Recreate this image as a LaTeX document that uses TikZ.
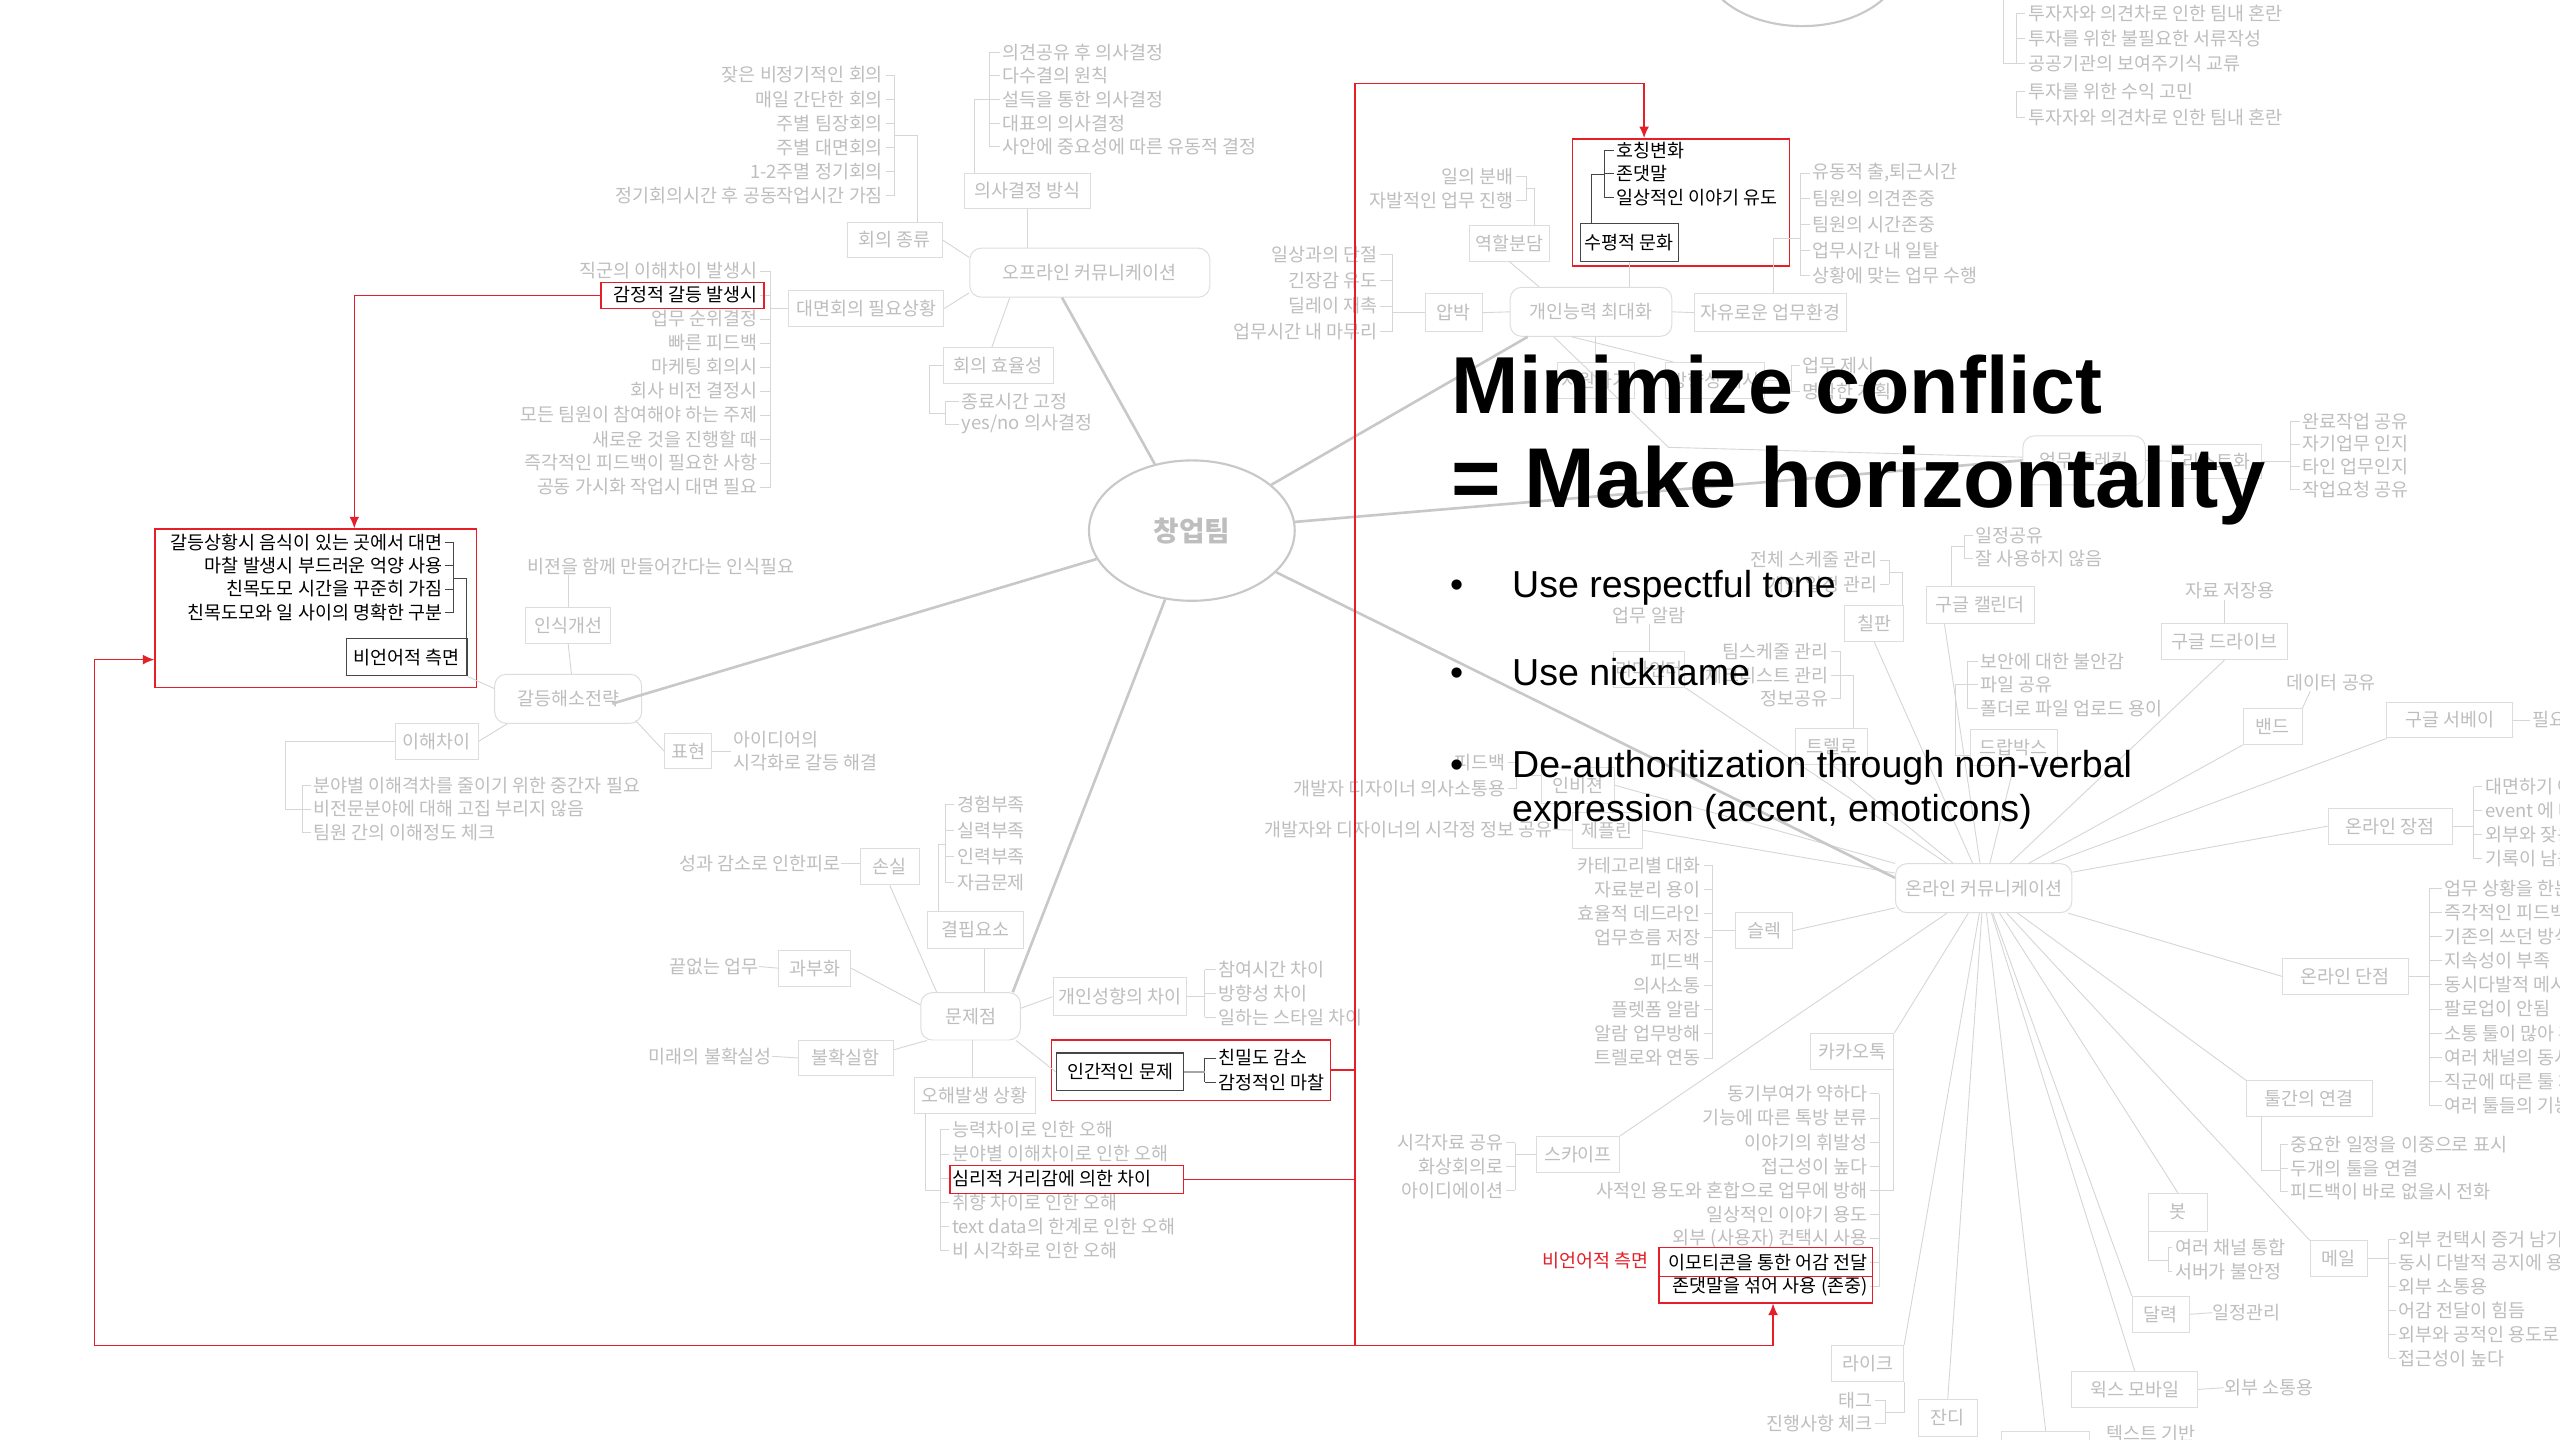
\documentclass[tikz,border=0pt]{standalone}
\usepackage{fontspec}
\newfontfamily\kr{Noto Sans CJK KR}
\newfontfamily\hv{Liberation Sans}
\usetikzlibrary{shapes.geometric,arrows.meta}

\definecolor{tg}{RGB}{190,190,190}
\definecolor{bg}{RGB}{221,221,221}
\definecolor{lg}{RGB}{214,214,214}
\definecolor{mg}{RGB}{200,200,200}
\definecolor{rd}{RGB}{230,30,40}
\definecolor{dk}{RGB}{70,70,70}

% right-aligned list with its bracket on the right
\newcommand\lstR[6]{%
  \foreach \t [count=\i] in {#6}{%
    \node[lt,anchor=east] (#1\i) at (#2,{#4+(\i-1)*#5}) {\t};
    \draw[lb] ([xshift=1.5pt]#1\i.east) -- ++({#3-#2-1.5},0);
    \xdef\lastn{\i}%
  }%
  \draw[lb] (#3,#4) -- (#3,{#4+(\lastn-1)*#5});
}
% left-aligned list with its bracket on the left
\newcommand\lstL[6]{%
  \foreach \t [count=\i] in {#6}{%
    \node[lt,anchor=west] (#1\i) at (#2,{#4+(\i-1)*#5}) {\t};
    \draw[lb] ([xshift=-1.5pt]#1\i.west) -- ++({#3-#2+1.5},0);
    \xdef\lastn{\i}%
  }%
  \draw[lb] (#3,#4) -- (#3,{#4+(\lastn-1)*#5});
}

\begin{document}
\begin{tikzpicture}[x=1pt,y=-1pt,
  kfont/.style={font=\kr\fontsize{11.3}{14}\selectfont},
  gt/.style={kfont,text=tg,inner sep=0pt},
  bt/.style={kfont,text=black,inner sep=0pt},
  lt/.style={gt},
  ln/.style={draw=lg,line width=0.55pt},
  dln/.style={draw=dk,line width=0.55pt},
  lb/.style={ln},
  sz/.style 2 args={minimum width=#1pt,minimum height=#2pt},
  gbox/.style={kfont,draw=bg,line width=0.6pt,text=tg,inner sep=0pt},
  hub/.style={gbox,rounded corners=7pt},
  dbox/.style={kfont,draw=dk,line width=0.7pt,text=black,inner sep=0pt},
  redbox/.style={draw=rd,line width=0.9pt,inner sep=0pt},
  trunk/.style={draw=mg,line width=1.6pt},
  redln/.style={draw=rd,line width=0.9pt},
  tip/.style={-{Latex[length=7pt,width=6pt]}},
  ttl/.style={font=\hv\bfseries\fontsize{#1}{#1}\selectfont,anchor=base west,inner sep=0pt},
  bul/.style={font=\hv\fontsize{23}{27}\selectfont,anchor=base west,inner sep=0pt}
]
\useasboundingbox (0,0) rectangle (1568,882);
\fill[white] (0,0) rectangle (1568,882);
\clip (0,0) rectangle (1568,882);

% ---------- centre ----------
\node[draw=mg,line width=1.3pt,ellipse,sz={126}{86},inner sep=0pt,text=tg,
      font=\kr\bfseries\fontsize{17}{20}\selectfont] (team) at (730,325) {창업팀};
\node[draw=mg,line width=1.3pt,ellipse,sz={122}{80},inner sep=0pt] (topel) at (1104,-24) {};

% ---------- offline communication ----------
\node[hub,sz={147}{30}] (offline) at (667.5,167) {오프라인 커뮤니케이션};
\node[gbox,sz={58}{22}] (hoeui) at (548,147) {회의 종류};
\node[gbox,sz={77}{22}] (uisa) at (629.5,117) {의사결정 방식};
\node[gbox,sz={95}{22}] (daemyeon) at (530.5,189) {대면회의 필요상황};
\node[gbox,sz={67}{22}] (hyoyul) at (611.5,224) {회의 효율성};

\lstR{mt}{541}{548}{46}{14.8}{잦은 비정기적인 회의,매일 간단한 회의,주별 팀장회의,주별 대면회의,1-2주멸 정기회의,정기회의시간 후 공동작업시간 가짐}
\draw[ln] ([xshift=14pt]hoeui.north) |- (548,83);
\lstL{ds}{614}{606}{32}{14.5}{의견공유 후 의사결정,다수결의 원칙,설득을 통한 의사결정,대표의 의사결정,사안에 중요성에 따른 유동적 결정}
\draw[ln] ([xshift=-32.5pt]uisa.north) |- (606,61);
\lstR{fm}{464}{472}{166}{14.7}{직군의 이해차이 발생시,{\color{black}감정적 갈등 발생시},업무 순위결정,빠른 피드백,마케팅 회의시,회사 비전 결정시,모든 팀원이 참여해야 하는 주제,새로운 것을 진행할 때,즉각적인 피드백이 필요한 사항,공동 가시화 작업시 대면 필요}
\draw[ln] (daemyeon.west) -- ++(-11,0);
\lstL{hy}{589}{579}{246}{14}{종료시간 고정,yes/no 의사결정}
\draw[ln] (hyoyul.west) -| (569,253) -- (579,253);

\draw[ln] (hoeui.east) -- ([yshift=-6pt]offline.north west);
\draw[ln] (uisa.south) -- (uisa.south |- offline.north);
\draw[ln] (daemyeon.east) -- ([yshift=3pt]offline.south west);
\draw[ln] ([xshift=-4pt]hyoyul.north) -- ([xshift=-49pt]offline.south);

\node[redbox,sz={100}{16}] (gamjeong) at (418,181) {};

% ---------- conflict resolution ----------
\node[redbox,sz={197}{97}] (bigred) at (193.5,372.5) {};
\begin{scope}[lt/.style={bt},lb/.style={dln}]
\lstR{nv}{271}{278}{332}{14.4}{갈등상황시 음식이 있는 곳에서 대면,마찰 발생시 부드러운 억양 사용,친목도모 시간을 꾸준히 가짐,친목도모와 일 사이의 명확한 구분}
\end{scope}
\node[dbox,sz={74}{23}] (bieoneo) at (249,402.5) {비언어적 측면};
\draw[dln] (278,354) -| ([xshift=37pt]bieoneo.north);

\node[hub,sz={90}{30}] (gdhs) at (348,428) {갈등해소전략};
\node[gbox,sz={52}{22}] (insik) at (348,383) {인식개선};
\node[gt,anchor=west] (insiktxt) at (323,347) {비젼을 함께 만들어간다는 인식필요};
\draw[ln] (insik.north) -- (insik.north |- insiktxt.south);
\draw[ln] (insik.south) -- ([xshift=2pt]gdhs.north);
\draw[ln] (bieoneo.south east) -- ([yshift=-9pt]gdhs.north west);
\node[gbox,sz={51}{22}] (ihae) at (267.5,454) {이해차이};
\draw[ln] (ihae.east) -- ([xshift=8pt]gdhs.south west);
\lstL{ih}{192}{185}{481}{14.5}{분야별 이해격차를 줄이기 위한 중간자 필요,비전문분야에 대해 고집 부리지 않음,팀원 간의 이해정도 체크}
\draw[ln] (ihae.west) -| (175,495.5) -- (185,495.5);
\node[gbox,sz={29}{22}] (pyo) at (421.5,460) {표현};
\node[gt,anchor=west,align=left] (pyotxt) at (449,460) {아이디어의\\시각화로 갈등 해결};
\draw[ln] ([xshift=-4pt,yshift=2pt]gdhs.south east) -- (pyo.west);
\draw[ln] (pyo.east) -- ([xshift=-1.5pt]pyotxt.west);

% ---------- problems ----------
\node[hub,sz={61}{29}] (munje) at (594.5,622.5) {문제점};
\node[gbox,sz={36}{22}] (sonsil) at (545,531) {손실};
\node[gt,anchor=east] (sonsiltxt) at (515,529) {성과 감소로 인한피로};
\draw[ln] (sonsiltxt.east) -- ([yshift=2pt]sonsil.west);
\draw[ln] (sonsil.south) -- ([xshift=10pt]munje.north west);
\node[gbox,sz={59}{23}] (gyeol) at (597.5,569.5) {결핍요소};
\draw[ln] ([xshift=5.5pt]gyeol.south) -- ++(0,27);
\lstL{gp}{586}{579}{493}{15.8}{경험부족,실력부족,인력부족,자금문제}
\draw[ln] ([xshift=-22.5pt]gyeol.north) |- (579,517);
\node[gbox,sz={44}{22}] (gwabu) at (499,593) {과부화};
\node[gt,anchor=east] (gwabutxt) at (465,592) {끝없는 업무};
\draw[ln] (gwabutxt.east) -- (gwabu.west);
\draw[ln] (gwabu.east) -- ([yshift=7pt]munje.west);
\node[gbox,sz={58}{22}] (bulhwak) at (518,648) {불확실함};
\node[gt,anchor=east] (bulhwaktxt) at (473,647) {미래의 불확실성};
\draw[ln] (bulhwaktxt.east) -- (bulhwak.west);
\draw[ln] ([yshift=5pt]bulhwak.east) -- ([xshift=4pt]munje.south west);
\node[gbox,sz={82}{23}] (gaein) at (686,610.5) {개인성향의 차이};
\draw[ln] ([yshift=5pt]munje.east) -- (gaein.west);
\lstL{gi}{746}{738}{594}{14.5}{참여시간 차이,방향성 차이,일하는 스타일 차이}
\draw[ln] (gaein.east) -- ++(11,0);
\node[redbox,sz={171}{37}] (ingan) at (729.5,655.5) {};
\node[dbox,sz={78}{23}] (ingandk) at (686,656.5) {인간적인 문제};
\draw[ln] ([xshift=-3pt]munje.south east) -- (ingandk.west);
\begin{scope}[lt/.style={bt},lb/.style={dln}]
\lstL{ig}{746}{738}{648}{15}{친밀도 감소,감정적인 마찰}
\end{scope}
\draw[draw=gray!70,line width=1.4pt] (ingandk.east) -- ++(13,0);
\node[gbox,sz={74}{22}] (ohae) at (597,671) {오해발생 상황};
\draw[ln] ([xshift=1pt]munje.south) -- ([xshift=-1.5pt]ohae.north);
\lstL{oh}{583}{576}{692}{14.8}{능력차이로 인한 오해,분야별 이해차이로 인한 오해,{\color{black}심리적 거리감에 의한 차이},취향 차이로 인한 오해,text data의 한계로 인한 오해,비 시각화로 인한 오해}
\draw[ln] ([xshift=-30pt]ohae.south) |- (576,729);
\node[redbox,sz={143}{17}] (simri) at (653.5,722.5) {};

% ---------- individual ability ----------
\node[hub,sz={99}{30}] (gaenung) at (974.5,191) {개인능력 최대화};
\node[gbox,sz={35}{23}] (apbak) at (890.5,191.5) {압박};
\draw[ln] (apbak.east) -- (gaenung.west);
\lstR{ap}{844}{853}{156}{15.7}{일상과의 단절,긴장감 유도,딜레이 재촉,업무시간 내 마무리}
\draw[ln] (apbak.west) -- ++(-20,0);
\node[gbox,sz={49}{22}] (yeokhal) at (924.5,149) {역할분담};
\draw[ln] (yeokhal.south) -- ([xshift=18pt]gaenung.north west);
\lstR{yh}{927}{935}{108}{15}{일의 분배,자발적인 업무 진행}
\draw[ln] ([xshift=15.5pt]yeokhal.north) |- (935,115.5);
\node[redbox,sz={133}{78}] (supyeong) at (1029.5,124) {};
\node[dbox,sz={60}{23}] (supyeongdk) at (998,148.5) {수평적 문화};
\draw[ln] (supyeongdk.south) -- ([xshift=23.5pt]gaenung.north);
\begin{scope}[lt/.style={bt},lb/.style={dln}]
\lstL{sp}{990}{983}{92}{14.5}{호칭변화,존댓말,일상적인 이야기 유도}
\end{scope}
\draw[dln] ([xshift=-23pt]supyeongdk.north) |- (983,107);
\node[gbox,sz={93}{23}] (jayu) at (1084.5,191.5) {자유로운 업무환경};
\draw[ln] (gaenung.east) -- (jayu.west);
\lstL{jy}{1110}{1103}{106}{15.75}{{유동적 출,퇴근시간},팀원의 의견존중,팀원의 시간존중,업무시간 내 일탈,상황에 맞는 업무 수행}
\draw[ln] ([xshift=1.5pt]jayu.north) |- (1103,146);
\node[gbox,sz={47}{22}] (hid1) at (977.5,233) {지원하기};
\node[gbox,sz={61}{22}] (hid2) at (1050.5,233) {방향성 제시};
\draw[ln] (hid1.north) -- ([xshift=3pt]gaenung.south);
\draw[ln] ([xshift=5pt]hid2.north west) -- ([xshift=38pt]gaenung.south west);
\lstL{ep}{1104}{1097}{224}{16}{업무 제시,명확한 계획}
\draw[ln] (hid2.east) -- ++(16,0);

% ---------- task tracking ----------
\node[hub,sz={75}{30}] (trek) at (1276.5,282) {업무 트레킹};
\node[gbox,sz={55}{21}] (listz) at (1357.5,282.5) {리스트화};
\draw[ln] (trek.east) -- (listz.west);
\lstL{ls}{1410}{1403}{258}{14}{완료작업 공유,자기업무 인지,타인 업무인지,작업요청 공유}
\draw[ln] (listz.east) -- ++(18,0);
\coordinate (bend) at (1022,274);
\draw[ln] ([xshift=27pt]gaenung.south west) -- (bend) -- ([yshift=2pt]trek.west);

% ---------- investment (top right) ----------
\lstL{tz}{1242}{1235}{8}{15.5}{투자자와 의견차로 인한 팀내 혼란,투자를 위한 불필요한 서류작성,공공기관의 보여주기식 교류}
\lstL{tq}{1242}{1235}{56}{16}{투자를 위한 수익 고민,투자자와 의견차로 인한 팀내 혼란}
\draw[ln] (1227,0) |- (1235,39);

% ---------- online communication ----------
\node[hub,sz={108}{30}] (online) at (1215,544) {온라인 커뮤니케이션};

\node[gbox,sz={45}{22}] (invision) at (966.5,481) {인비젼};
\lstR{iv}{922}{929}{467}{16}{피드백,개발자 디자이너 의사소통용}
\draw[ln] ([yshift=6pt]invision.west) -- ++(-15,0);
\node[gbox,sz={43}{22}] (zeplin) at (984.5,508.5) {제플린};
\node[gt,anchor=east] (zeptxt) at (951,508) {개발자와 디자이너의 시각정 정보 공유};
\draw[ln] (zeptxt.east) -- (zeplin.west);
\node[gbox,sz={35}{22}] (slack) at (1080.5,570) {슬렉};
\lstR{sl}{1042}{1049}{530}{14.75}{카테고리별 대화,자료분리 용이,효율적 데드라인,업무흐름 저장,피드백,의사소통,플렛폼 알람,알람 업무방해,트렐로와 연동}
\draw[ln] (slack.west) -- ++(-14,0);
\node[gbox,sz={51}{22}] (kakao) at (1134.5,644) {카카오톡};
\lstR{kk}{1144}{1151}{670}{14.75}{동기부여가 약하다,기능에 따른 톡방 분류,이야기의 휘발성,접근성이 높다,사적인 용도와 혼합으로 업무에 방해,일상적인 이야기 용도,외부 (사용자) 컨택시 사용,{\color{black}이모티콘을 통한 어감 전달},{\color{black}존댓말을 섞어 사용 (존중)}}
\draw[ln] ([xshift=25.5pt]kakao.south) |- (1151,729);
\node[redbox,sz={131}{18}] (kred1) at (1081.5,773) {};
\node[redbox,sz={131}{16}] (kred2) at (1081.5,790) {};
\node[kfont,text=rd,anchor=east,inner sep=0pt] (nvred) at (1010,772) {비언어적 측면};
\node[gbox,sz={51}{22}] (skype) at (966.5,707) {스카이프};
\lstR{sk}{921}{928}{700}{14.5}{시각자료 공유,화상회의로,아이디에이션}
\draw[ln] (skype.west) -- ++(-13,0);
\node[gbox,sz={44}{22}] (like) at (1144,835) {라이크};
\lstR{lk}{1147}{1155}{858}{14}{태그,진행사항 체크}
\draw[ln] (like.south east) |- (1155,865);
\node[gbox,sz={36}{23}] (jandi) at (1193,868.5) {잔디};
\node[gbox,sz={54}{24}] (bbox) at (1253,889) {};
\node[gt,anchor=west] (textbase) at (1290,878) {텍스트 기반};
\node[gbox,sz={77}{22}] (wix) at (1307.5,851) {윅스 모바일};
\node[gt,anchor=west] (wixtxt) at (1362,850) {외부 소통용};
\draw[ln] (wix.east) -- (wixtxt.west);
\node[gbox,sz={35}{22}] (dal) at (1323.5,805) {달력};
\node[gt,anchor=west] (daltxt) at (1355,804) {일정관리};
\draw[ln] (dal.east) -- (daltxt.west);
\node[gbox,sz={36}{23}] (bot) at (1334,742.5) {봇};
\lstL{bo}{1332}{1328}{764}{15}{여러 채널 통합,서버가 불안정}
\draw[ln] (bot.south west) |- (1328,772);
\node[gbox,sz={35}{22}] (mail) at (1432.5,771) {메일};
\lstL{ml}{1469}{1463}{759}{14.6}{외부 컨택시 증거 남기기,동시 다발적 공지에 용이,외부 소통용,어감 전달이 힘듬,외부와 공적인 용도로 사용,접근성이 높다}
\draw[ln] (mail.east) -- ++(13,0);
\node[gbox,sz={77}{22}] (toolc) at (1414.5,673) {툴간의 연결};
\lstL{tc}{1403}{1397}{701}{14.5}{중요한 일정을 이중으로 표시,두개의 툴을 연결,피드백이 바로 없을시 전화}
\draw[ln] ([xshift=-29.5pt]toolc.south) |- (1397,717);
\node[gbox,sz={77}{22}] (dan) at (1436.5,598) {온라인 단점};
\lstL{dn}{1497}{1488}{544}{14.8}{업무 상황을 한눈에 파악,즉각적인 피드백이 어려움,기존의 쓰던 방식과 다름,지속성이 부족,동시다발적 메시지,팔로업이 안됨,소통 툴이 많아 혼란,여러 채널의 동시 관리,직군에 따른 툴 차이,여러 툴들의 기능 중복}
\draw[ln] (dan.east) -- ++(13,0);
\node[gbox,sz={76}{22}] (jang) at (1464,506) {온라인 장점};
\lstL{jg}{1522}{1515}{482}{14.7}{대면하기 어려움,event 에 대한 공유,외부와 잦은 소통,기록이 남음}
\draw[ln] (jang.east) -- ++(13,0);
\node[gbox,sz={77}{22}] (survey) at (1500.5,441) {구글 서베이};
\node[gt,anchor=west] (survtxt) at (1551,441) {필요시 설문};
\draw[ln] (survey.east) -- ([xshift=-1.5pt]survtxt.west);
\node[gbox,sz={36}{22}] (band) at (1392,445) {밴드};
\node[gt] (bandtxt) at (1428,418) {데이터 공유};
\draw[ln] (band.north east) -- ([xshift=-13pt]bandtxt.south);
\node[gbox,sz={77}{22}] (drive) at (1362.5,393) {구글 드라이브};
\node[gt] (drivetxt) at (1366,362) {자료 저장용};
\draw[ln] (drive.north) -- ([xshift=-3.5pt]drivetxt.south);
\node[gbox,sz={66}{23}] (cal) at (1213,370.5) {구글 캘린더};
\lstL{cl}{1210}{1203}{328}{14}{일정공유,잘 사용하지 않음}
\draw[ln] ([xshift=-18pt]cal.north) |- (1203,335);
\node[gbox,sz={36}{22}] (chil) at (1148,382) {칠판};
\lstR{ch}{1150}{1157}{343}{15}{전체 스케줄 관리,개인 일정 관리}
\draw[ln] ([xshift=17pt]chil.north) |- (1157,350.5);
\node[gbox,sz={44}{22}] (trello) at (1122,457) {트렐로};
\lstR{tr}{1120}{1127}{399}{14.5}{팀스케줄 관리,체크리스트 관리,정보공유}
\draw[ln] ([xshift=13pt]trello.north) |- (1127,413.5);
\node[gbox,sz={44}{22}] (remind) at (1010,410) {리마인더};
\node[gt] (remtxt) at (1010,377) {업무 알람};
\draw[ln] (remind.north) -- (remtxt.south);
\node[gbox,sz={53}{22}] (dropb) at (1233.5,458) {드랍박스};
\lstL{db}{1213}{1205}{405}{14.5}{보안에 대한 불안감,파일 공유,폴더로 파일 업로드 용이}
\draw[ln] ([yshift=-5pt]dropb.west) -| (1198,419.5) -- (1205,419.5);

\foreach \tg in {invision.east,zeplin.east,slack.east,kakao.north east,skype.north east,
                 like.north east,jandi.north,bbox.north,wix.north,dal.north west,bot.north,
                 mail.north west,toolc.north west,dan.west,jang.west,survey.south west,
                 band.south west,drive.south,dropb.south,chil.south,trello.south,remind.south east}
  \draw[ln] (online) -- (\tg);
\draw[ln] (online) -- ([xshift=-22pt]cal.south);

% ---------- trunks from the centre ----------
\coordinate (gdhsend) at (375,431);
\draw[trunk] ([xshift=-17pt]offline.south) -- (team);
\draw[trunk] (team) -- (gdhsend);
\draw[trunk] (team) -- ([xshift=-5pt]munje.north east);
\draw[trunk] (team) -- ([xshift=11pt]gaenung.south west);
\draw[trunk] (team) -- (trek.west);
\draw[trunk] (team) -- ([yshift=-9pt]online.north west);

% ---------- red links ----------
\coordinate (rA) at (217,181);
\draw[redln,tip] (gamjeong.west) -- (rA) -- (rA |- bigred.north);
\coordinate (rtop) at (830,51);
\coordinate (rtopR) at (1007,51);
\coordinate (rbot) at (830,824);
\coordinate (rleft) at (58,824);
\coordinate (rleftUp) at (58,404);
\coordinate (rright) at (1086,824);
\draw[redln] (rtop) -- (rbot);
\draw[redln] (ingan.east) -- (ingan.east -| rtop);
\draw[redln] (simri.east) -- (simri.east -| rtop);
\draw[redln,tip] (rtop) -- (rtopR) -- (rtopR |- supyeong.north);
\draw[redln,tip] (rbot) -- (rleft) -- (rleftUp) -- (rleftUp -| bigred.west);
\draw[redln,tip] (rbot) -- (rright) -- (rright |- kred2.south);

% ---------- headline ----------
\node[ttl=49.5] (t1) at (889,253) {Minimize conflict};
\node[ttl=52] (t2) at (889,311) {= Make horizontality};
\node[bul] (d1) at (888,366) {•};
\node[bul] (b1) at (926,366) {Use respectful tone};
\node[bul] (d2) at (888,420) {•};
\node[bul] (b2) at (926,420) {Use nickname};
\node[bul] (d3) at (888,476) {•};
\node[bul] (b3) at (926,476) {De-authoritization through non-verbal};
\node[bul] (b4) at (926,503) {expression (accent, emoticons)};
\end{tikzpicture}
\end{document}
